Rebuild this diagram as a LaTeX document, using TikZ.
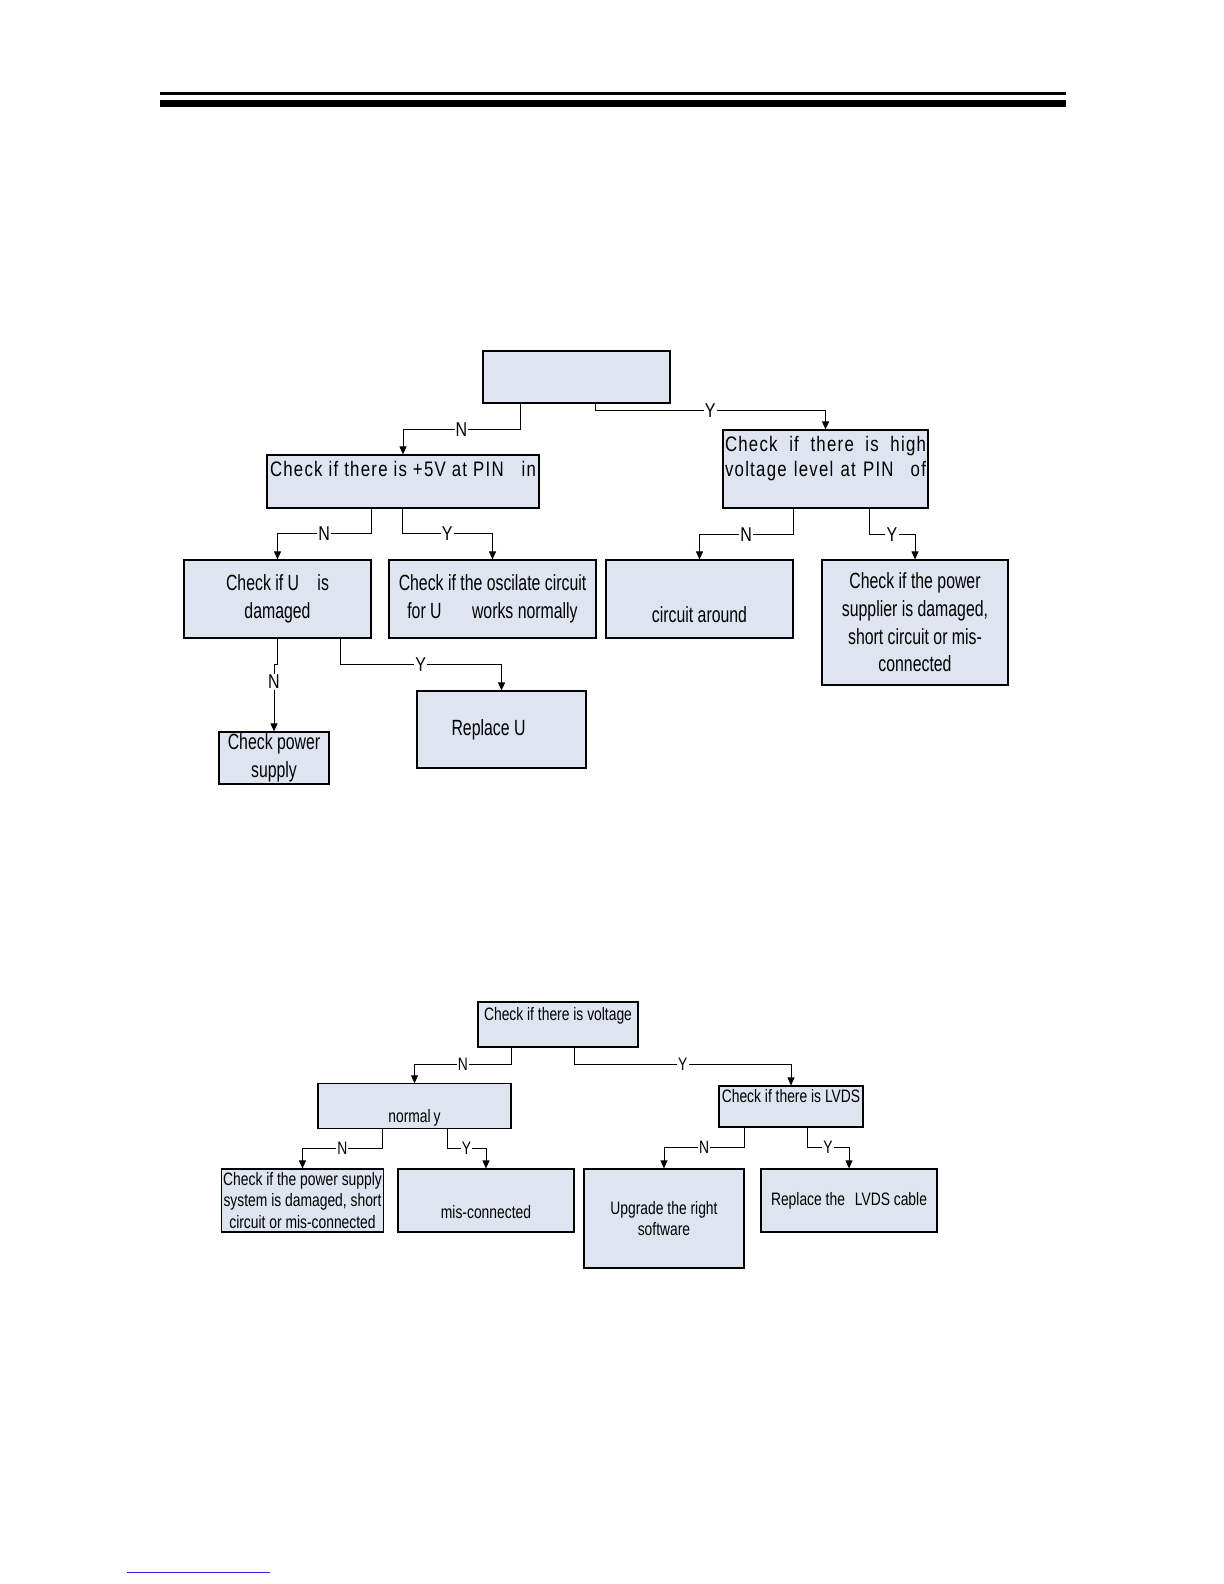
\documentclass[tikz,border=0pt]{standalone}
\usepackage{fontspec}
\setmainfont{Liberation Sans}
\newfontfamily\condfont[FakeStretch=0.72]{Liberation Sans}
\newfontfamily\condsmall[FakeStretch=0.77]{Liberation Sans}
\newfontfamily\widefont[FakeStretch=0.8]{Liberation Sans}
\newfontfamily\trackfont[FakeStretch=0.8,LetterSpace=6]{Liberation Sans}
\usepackage{xcolor}
\usepackage{tikz}
\usetikzlibrary{arrows.meta,positioning,calc}
\definecolor{boxfill}{RGB}{222,228,240}
\definecolor{linkblue}{RGB}{40,40,230}
\newcommand{\spreadline}[2]{\leavevmode\hbox to #1{#2}}
\tikzset{
  box/.style={draw, line width=0.6pt, fill=boxfill, inner sep=1pt, align=center,
    font=\condfont\fontsize{11}{13.8}\selectfont},
  smallbox/.style={box, font=\condsmall\fontsize{9}{10.75}\selectfont},
  widebox/.style={box, align=left, font=\trackfont\fontsize{10.5}{12.5}\selectfont},
  arr/.style={line width=0.5pt, -{Triangle[length=4pt,width=3.5pt]}},
  yn/.style={fill=white, inner sep=0.6pt, font=\widefont\fontsize{10}{11}\selectfont},
  ynsmall/.style={yn, font=\condsmall\fontsize{9}{10}\selectfont}
}
\begin{document}
\begin{tikzpicture}[x=0.5pt,y=-0.5pt]
    \useasboundingbox (0,0) rectangle (1224,1584);

    % Page rule
    \fill[black] (160,92) rectangle (1066,95);
    \fill[black] (160,100) rectangle (1066,107.5);

    % First chart
    \node[box, minimum width=93.5pt, minimum height=26pt] (top) at (576.5,377) {};
    \node[widebox, minimum width=136pt, minimum height=26.5pt, text width=133pt] (pin) at (403,481.5)
        {\spreadline{133pt}{Check\hfill if\hfill there\hfill is\hfill +5V\hfill at\hfill PIN\hspace{6pt}\hfill in}\\ \mbox{}};
    \node[widebox, minimum width=102.5pt, minimum height=39pt, text width=100.5pt] (high) at (825.5,469)
        {\spreadline{100.5pt}{Check\hfill if\hfill there\hfill is\hfill high}\\
         \spreadline{100.5pt}{voltage\hfill level\hfill at\hfill PIN\hspace{5pt}\hfill of}\\ \mbox{}};

    \node[box, minimum width=93.5pt, minimum height=39pt] (dmg) at (277.5,599) {Check if U\hspace{7pt} is\\damaged};
    \node[box, minimum width=103.5pt, minimum height=39pt] (osc) at (492.5,599)
        {Check if the oscilate circuit\\for U\hspace{13pt} works normally};
    \node[box, minimum width=93.5pt, minimum height=39pt] (arnd) at (699.5,599) {\strut\\circuit around};
    \node[box, minimum width=93pt, minimum height=62.5pt] (supp) at (915,622.5)
        {Check if the power\\supplier is damaged,\\short circuit or mis-\\connected};
    \node[box, minimum width=55pt, minimum height=26pt] (pwr) at (274,758) {Check power\\supply};
    \node[box, minimum width=84.5pt, minimum height=38.5pt] (repl) at (501.5,729.5) {Replace U\hspace*{13pt}};

    \draw[arr] ([xshift=-28.25pt]top.south) -- ++(0,26) -| node[yn,pos=0.25] {N} (pin.north);
    \draw[arr] ([xshift=9.25pt]top.south) -- ++(0,7) -| node[yn,pos=0.25] {Y} (high.north);
    \draw[arr] ([xshift=-16pt]pin.south) -- ++(0,25) -| node[yn,pos=0.25] {N} (dmg.north);
    \draw[arr] ([xshift=-0.5pt]pin.south) -- ++(0,25) -| node[yn,pos=0.25] {Y} (osc.north);
    \draw[arr] ([xshift=-16.25pt]high.south) -- ++(0,26) -| node[yn,pos=0.25] {N} (arnd.north);
    \draw[arr] ([xshift=21.75pt]high.south) -- ++(0,26) -| node[yn,pos=0.25] {Y} (supp.north);
    \draw[arr] (dmg.south) -- ++(0,26) -| node[yn,pos=0.63] {N} (pwr.north);
    \draw[arr] ([xshift=31.25pt]dmg.south) -- ++(0,26) -| node[yn,pos=0.25] {Y} (repl.north);

    % Second chart
    \node[smallbox, minimum width=80pt, minimum height=22.5pt] (volt) at (558,1024.5) {Check if there is voltage\\ \mbox{}};
    \node[smallbox, minimum width=96.5pt, minimum height=21pt] (norm) at (414.5,1106) {\strut\\normal\,y};
    \node[smallbox, minimum width=72pt, minimum height=20.5pt] (lvds) at (791,1106.5) {Check if there is LVDS\\ \mbox{}};
    \node[smallbox, minimum width=79.5pt, minimum height=31.5pt] (sys) at (302.5,1200.5)
        {Check if the power supply\\system is damaged, short\\circuit or mis-connected};
    \node[smallbox, minimum width=88pt, minimum height=31.5pt] (mis) at (486,1200.5) {\strut\\mis-connected};
    \node[smallbox, minimum width=80pt, minimum height=49.5pt] (upg) at (664,1218.5) {Upgrade the right\\software};
    \node[smallbox, minimum width=88pt, minimum height=31.5pt] (cable) at (849,1200.5) {Replace the\hspace{3pt} LVDS cable};

    \draw[arr] ([xshift=-23.5pt]volt.south) -- ++(0,17) -| node[ynsmall,pos=0.25] {N} (norm.north);
    \draw[arr] ([xshift=8.25pt]volt.south) -- ++(0,17) -| node[ynsmall,pos=0.25] {Y} (lvds.north);
    \draw[arr] ([xshift=-16.25pt]norm.south) -- ++(0,20) -| node[ynsmall,pos=0.25] {N} (sys.north);
    \draw[arr] ([xshift=16.25pt]norm.south) -- ++(0,20) -| node[ynsmall,pos=0.25] {Y} (mis.north);
    \draw[arr] ([xshift=-23.5pt]lvds.south) -- ++(0,20) -| node[ynsmall,pos=0.25] {N} (upg.north);
    \draw[arr] ([xshift=8pt]lvds.south) -- ++(0,20) -| node[ynsmall,pos=0.25] {Y} (cable.north);

    % Footer link line
    \draw[linkblue, line width=0.5pt] (127,1572) -- (270,1572);
\end{tikzpicture}
\end{document}
